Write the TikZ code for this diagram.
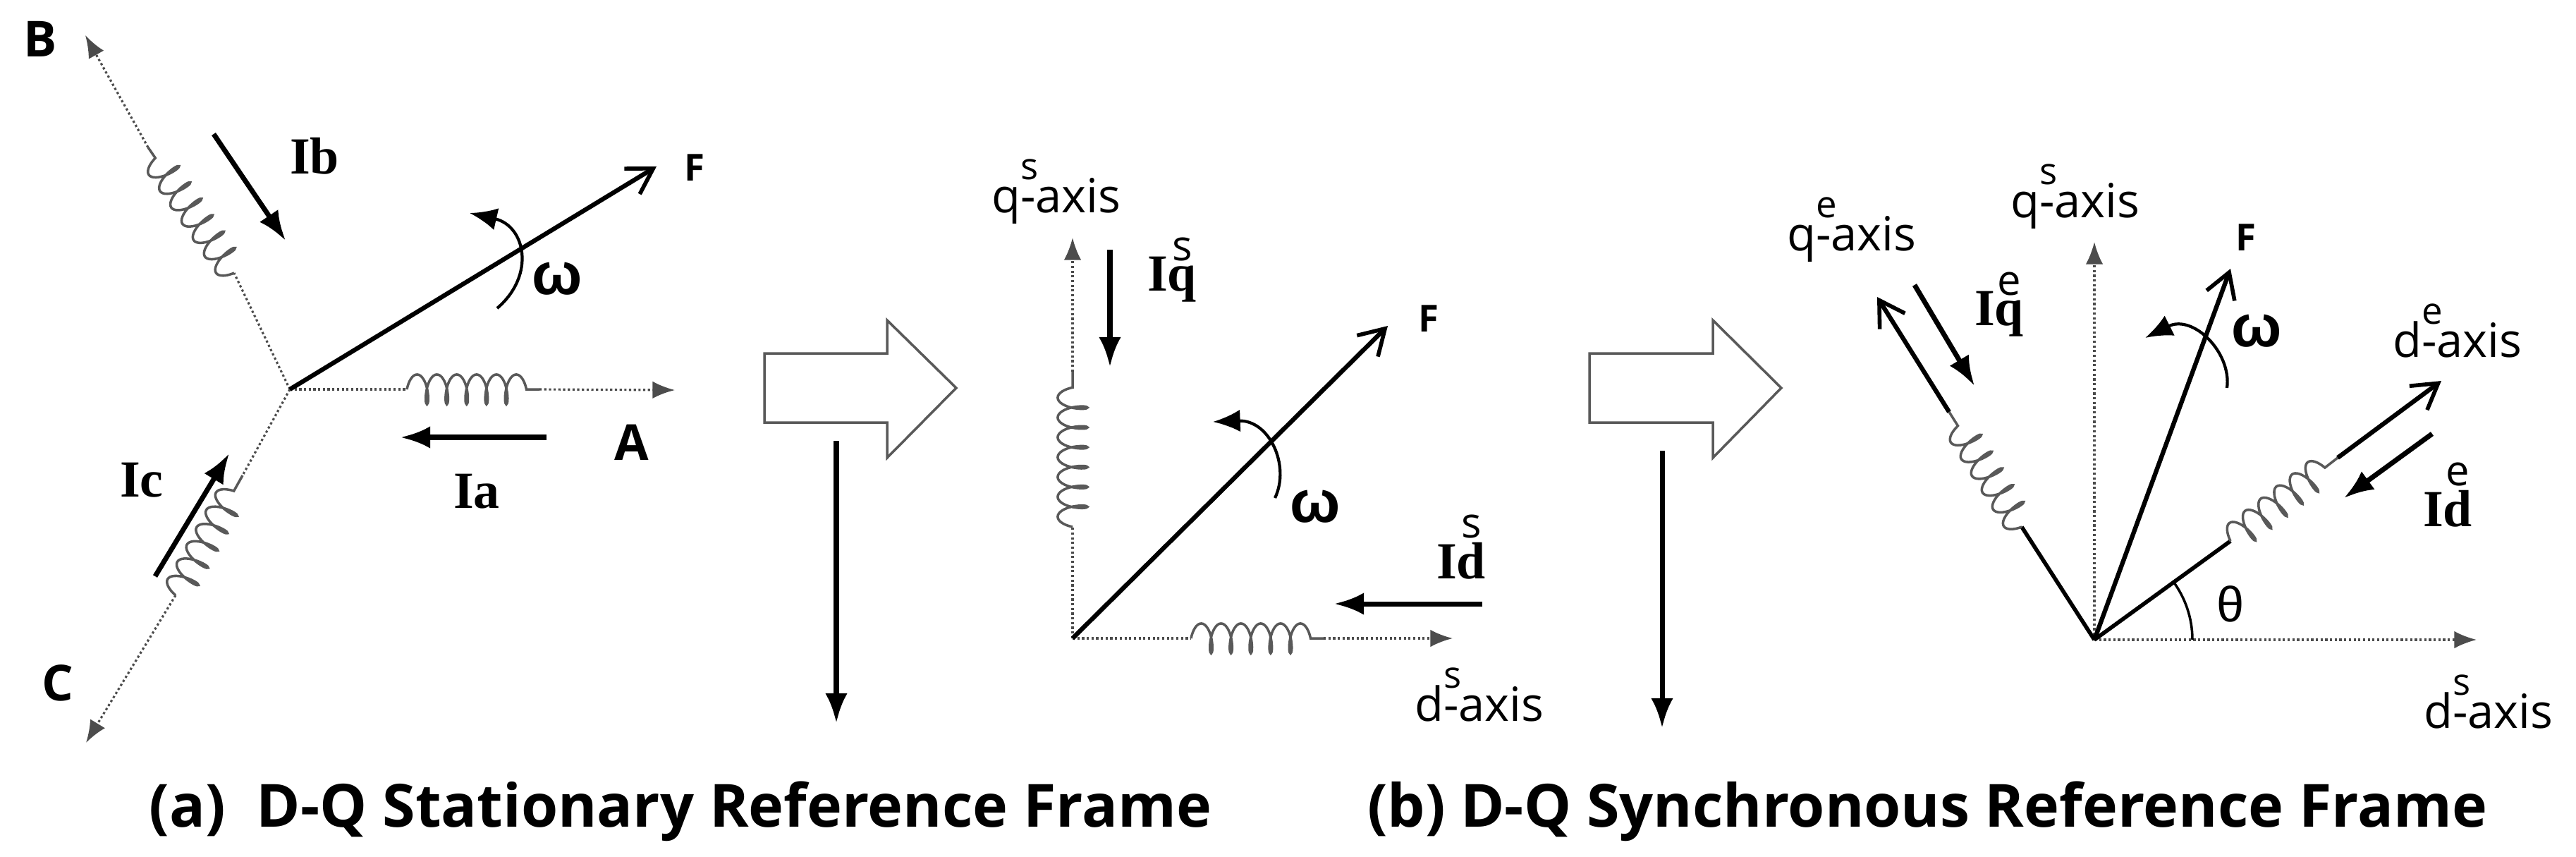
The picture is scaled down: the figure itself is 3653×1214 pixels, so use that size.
\documentclass[tikz,border=0pt]{standalone}
\usepackage{fontspec}
\setmainfont{Liberation Serif}
\setsansfont{Open Sans}
\newfontfamily\lsans{Liberation Sans}
\usetikzlibrary{arrows.meta,decorations.pathmorphing}
\newcommand{\supx}[2]{#1\rlap{\raisebox{0.7em}{\fontsize{15}{15}\selectfont #2}}-axis}
\newcommand{\curlab}[2]{\textbf{I}$\stackrel{\mbox{\sffamily\mdseries\fontsize{17}{17}\selectfont #2}}{\mbox{\bfseries #1}}$}
\begin{document}
\begin{tikzpicture}[x=0.01cm,y=-0.01cm,
 axis/.style={densely dotted,gray!60!black,line width=0.9pt,-{Latex[length=9pt,width=7pt]}},
 dline/.style={densely dotted,gray!60!black,line width=0.9pt},
 coilst/.style={gray!70!black,line width=1pt,decorate,decoration={coil,aspect=0.35,segment length=8pt,amplitude=6pt}},
 wire/.style={line width=1.6pt},
 fvec/.style={line width=1.8pt,-{Straight Barb[length=10pt,width=12pt,line width=1.6pt]}},
 cur/.style={line width=2pt,-{Latex[length=12pt,width=9pt]}},
 rot/.style={line width=1.2pt,-{Latex[length=11pt,width=9pt]}},
 lab/.style={font=\sffamily\fontsize{19}{19}\selectfont},
 blab/.style={font=\sffamily\bfseries\fontsize{20}{20}\selectfont},
 flab/.style={font=\sffamily\bfseries\fontsize{15}{15}\selectfont},
 ilab/.style={font=\bfseries\fontsize{21}{21}\selectfont},
 captext/.style={font=\sffamily\bfseries\fontsize{24}{24}\selectfont},
 wlab/.style={font=\lsans\bfseries\fontsize{24}{24}\selectfont},
 blk/.style={draw=gray!70!black,line width=1pt,fill=white}]
\useasboundingbox (0,0) rectangle (3653,1214);
% ---------- panel 1 ----------
\coordinate (O1) at (411,552);
\coordinate (Btip) at (121,50);
\coordinate (Ctip) at (122,1053);
\coordinate (Atip) at (957,553);
\coordinate (b1) at (332,387); \coordinate (b2) at (210,209);
\coordinate (c1) at (344,674); \coordinate (c2) at (249,844);
\coordinate (a1) at (577,552); \coordinate (a2) at (765,552);
\draw[dline] (O1) -- (b1);
\draw[dline] (O1) -- (c1);
\draw[dline] (O1) -- (a1);
\draw[axis] (b2) -- (Btip);
\draw[axis] (c2) -- (Ctip);
\draw[axis] (a2) -- (Atip);
\draw[coilst] (b1) -- (b2);
\draw[coilst] (c2) -- (c1);
\draw[coilst] (a1) -- (a2);
\coordinate (F1) at (931,236);
\draw[fvec] (O1) -- (F1);
\node[flab] (Fl1) at (985,238) {F};
\node[blab] (Bl) at (57,55) {B};
\node[blab] (Cl) at (82,968) {C};
\node[blab] (Al) at (896,627) {A};
\coordinate (ib1) at (303,190); \coordinate (ib2) at (405,341);
\draw[cur] (ib1) -- (ib2);
\node[ilab] (Ibl) at (446,221) {Ib};
\coordinate (ic1) at (220,817); \coordinate (ic2) at (325,643);
\draw[cur] (ic1) -- (ic2);
\node[ilab] (Icl) at (201,681) {Ic};
\coordinate (ia1) at (775,620); \coordinate (ia2) at (568,620);
\draw[cur] (ia1) -- (ia2);
\node[ilab] (Ial) at (676,697) {Ia};
\coordinate (w1s) at (705,437); \coordinate (w1e) at (666,302);
\draw[rot] (w1s) .. controls (760,390) and (745,320) .. (w1e);
\node[wlab] (w1) at (790,395) {ω};
% ---------- block arrows ----------
\draw[blk] (1084,501) -- (1258,501) -- (1258,454) -- (1356,550) -- (1258,649) -- (1258,599) -- (1084,599) -- cycle;
\coordinate (d1a) at (1186,625); \coordinate (d1b) at (1186,1025);
\draw[cur] (d1a) -- (d1b);
\draw[blk] (2254,501) -- (2429,501) -- (2429,454) -- (2526,550) -- (2429,649) -- (2429,599) -- (2254,599) -- cycle;
\coordinate (d2a) at (2357,639); \coordinate (d2b) at (2357,1032);
\draw[cur] (d2a) -- (d2b);
% ---------- panel 2 ----------
\coordinate (O2) at (1521,905);
\coordinate (q2a) at (1521,747); \coordinate (q2b) at (1521,527);
\coordinate (q2tip) at (1521,337);
\coordinate (d2c) at (1689,905); \coordinate (d2d) at (1877,905);
\coordinate (d2tip) at (2060,905);
\draw[dline] (O2) -- (q2a);
\draw[dline] (O2) -- (d2c);
\draw[coilst] (q2a) -- (q2b);
\draw[coilst] (d2c) -- (d2d);
\draw[axis] (q2b) -- (q2tip);
\draw[axis] (d2d) -- (d2tip);
\node[lab] (q2l) at (1498,272) {\supx{q}{s}};
\node[lab] (d2l) at (2098,985) {\supx{d}{s}};
\coordinate (F2) at (1968,462);
\draw[fvec] (O2) -- (F2);
\node[flab] (Fl2) at (2026,452) {F};
\coordinate (iq1) at (1574,354); \coordinate (iq2) at (1574,520);
\draw[cur] (iq1) -- (iq2);
\node[ilab] (Iql) at (1662,381) {\curlab{q}{s}};
\coordinate (id1) at (2102,856); \coordinate (id2) at (1892,856);
\draw[cur] (id1) -- (id2);
\node[ilab] (Idl) at (2072,774) {\curlab{d}{s}};
\coordinate (w2s) at (1808,706); \coordinate (w2e) at (1720,598);
\draw[rot] (w2s) .. controls (1830,660) and (1800,595) .. (w2e);
\node[wlab] (w2) at (1865,718) {ω};
% ---------- panel 3 ----------
\coordinate (O3) at (2970,907);
\coordinate (qs3tip) at (2970,343);
\draw[axis] (O3) -- (qs3tip);
\node[lab] (qs3l) at (2943,279) {\supx{q}{s}};
\coordinate (ds3tip) at (3512,907);
\draw[axis] (O3) -- (ds3tip);
\node[lab] (ds3l) at (3529,995) {\supx{d}{s}};
\coordinate (qe1) at (2867,747); \coordinate (qe2) at (2764,584); \coordinate (qetip) at (2662,421);
\draw[wire] (O3) -- (qe1);
\draw[coilst] (qe1) -- (qe2);
\draw[fvec] (qe2) -- (qetip);
\node[lab] (qel) at (2626,326) {\supx{q}{e}};
\coordinate (de1) at (3163,767); \coordinate (de2) at (3315,649); \coordinate (detip) at (3462,540);
\draw[wire] (O3) -- (de1);
\draw[coilst] (de1) -- (de2);
\draw[fvec] (de2) -- (detip);
\node[lab] (del) at (3485,469) {\supx{d}{e}};
\coordinate (F3) at (3163,381);
\draw[fvec] (O3) -- (F3);
\node[flab] (Fl3) at (3185,337) {F};
\coordinate (iqe1) at (2715,404); \coordinate (iqe2) at (2800,547);
\draw[cur] (iqe1) -- (iqe2);
\node[ilab] (Iqel) at (2835,430) {\curlab{q}{e}};
\coordinate (ide1) at (3449,615); \coordinate (ide2) at (3324,706);
\draw[cur] (ide1) -- (ide2);
\node[ilab] (Idel) at (3471,700) {\curlab{d}{e}};
\coordinate (w3s) at (3158,550); \coordinate (w3e) at (3042,479);
\draw[rot] (w3s) .. controls (3165,500) and (3110,445) .. (w3e);
\node[wlab] (w3) at (3200,469) {ω};
\draw[line width=1pt] (3109,907) arc[start angle=0,end angle=-37,radius=139];
\node[font=\lsans\fontsize{20}{20}\selectfont] (th) at (3163,856) {θ};
% ---------- captions ----------
\node[captext] (capa) at (965,1150) {(a)\ \ D-Q Stationary Reference Frame};
\node[captext] (capb) at (2733,1150) {(b)\ D-Q Synchronous Reference Frame};
\end{tikzpicture}
\end{document}
